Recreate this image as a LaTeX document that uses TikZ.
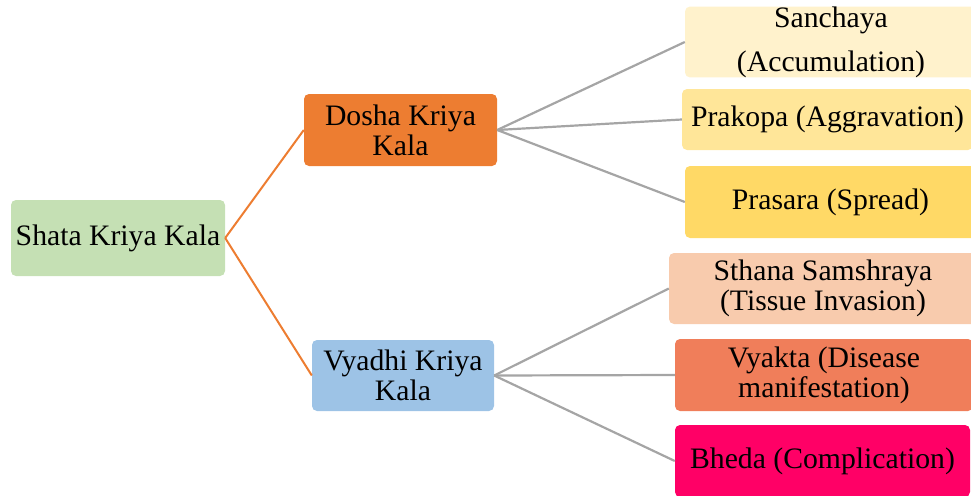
\documentclass[tikz,border=0pt]{standalone}
\usepackage{fontspec}
\setmainfont{Liberation Serif}
\definecolor{cRoot}{HTML}{C5E0B4}
\definecolor{cDosha}{HTML}{ED7D31}
\definecolor{cVyadhi}{HTML}{9DC3E6}
\definecolor{cSan}{HTML}{FFF2CC}
\definecolor{cPra}{HTML}{FFE699}
\definecolor{cPras}{HTML}{FFD966}
\definecolor{cSth}{HTML}{F8CBAD}
\definecolor{cVya}{HTML}{F07E5A}
\definecolor{cBhe}{HTML}{FF0066}
\definecolor{cGray}{HTML}{A5A5A5}
\tikzset{
  box/.style={rectangle, rounded corners=5pt, inner sep=0pt, align=center,
    font=\fontsize{29.7}{30}\selectfont, text=black},
  orangeline/.style={draw=cDosha, line width=2pt},
  grayline/.style={draw=cGray, line width=2.2pt},
}
\begin{document}
\begin{tikzpicture}[x=1pt,y=-1pt]
\useasboundingbox (0,0) rectangle (971,495);
\clip (0,0) rectangle (971,495);
\node[box, fill=cRoot, minimum width=214pt, minimum height=76pt] (root) at (118,238) {Shata Kriya Kala};
\node[box, fill=cDosha, minimum width=193pt, minimum height=72pt] (dosha) at (400.5,130) {Dosha Kriya\\Kala};
\node[box, fill=cVyadhi, minimum width=182pt, minimum height=71pt] (vyadhi) at (403,375.5) {Vyadhi Kriya\\Kala};
\node[box, fill=cSan, minimum width=292pt, minimum height=70pt, font=\fontsize{29.7}{44}\selectfont] (san) at (831,42) {Sanchaya\\(Accumulation)};
\node[box, fill=cPra, minimum width=291pt, minimum height=61pt] (pra) at (827.5,119.5) {Prakopa (Aggravation)};
\node[box, fill=cPras, minimum width=291pt, minimum height=72pt] (pras) at (830.5,202) {Prasara (Spread)};
\node[box, fill=cSth, minimum width=308pt, minimum height=71pt] (sth) at (823,288.5) {Sthana Samshraya\\(Tissue Invasion)};
\node[box, fill=cVya, minimum width=298pt, minimum height=72pt] (vya) at (824,375) {Vyakta (Disease\\manifestation)};
\node[box, fill=cBhe, minimum width=295pt, minimum height=72pt] (bhe) at (822.5,461) {Bheda (Complication)};
\draw[orangeline] (root.east) -- (dosha.west);
\draw[orangeline] (root.east) -- (vyadhi.west);
\draw[grayline] (dosha.east) -- (san.west);
\draw[grayline] (dosha.east) -- (pra.west);
\draw[grayline] (dosha.east) -- (pras.west);
\draw[grayline] (vyadhi.east) -- (sth.west);
\draw[grayline] (vyadhi.east) -- (vya.west);
\draw[grayline] (vyadhi.east) -- (bhe.west);
\end{tikzpicture}
\end{document}
